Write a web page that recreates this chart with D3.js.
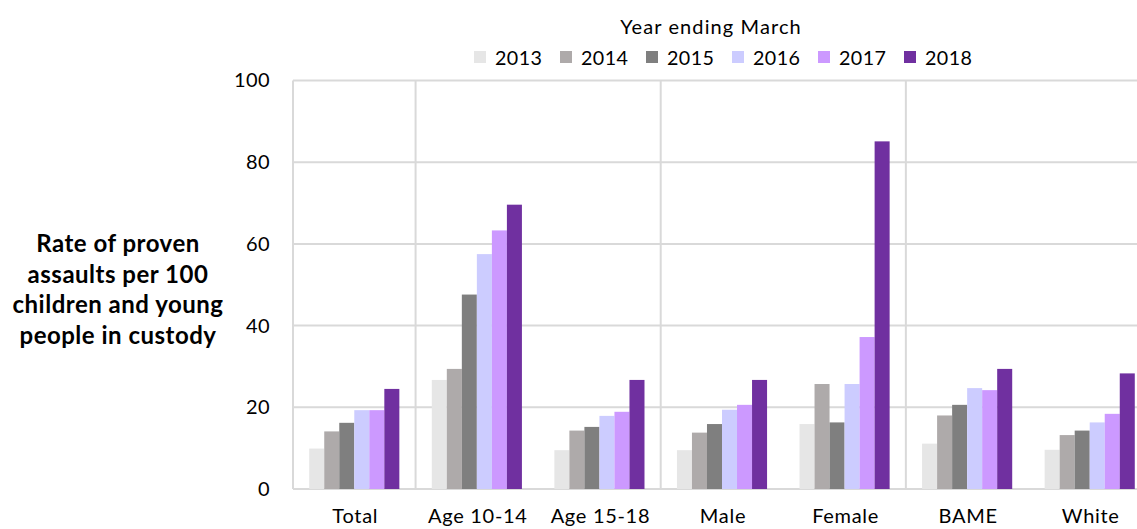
<!DOCTYPE html>
<html>
<head>
<meta charset="utf-8">
<script src="https://cdn.jsdelivr.net/npm/d3@7"></script>
<style>
  html, body { margin: 0; padding: 0; background: #fff; overflow: hidden; }
  svg { display: block; font-family: Lato, "Open Sans", sans-serif; }
</style>
</head>
<body>
<svg id="chart" width="1137" height="529"></svg>
<script>
// Proven assaults per 100 children and young people in custody, by group
const categories = ["Total", "Age 10-14", "Age 15-18", "Male", "Female", "BAME", "White"];
const years = ["2013", "2014", "2015", "2016", "2017", "2018"];
const colors = ["#e6e6e6", "#aeaaaa", "#7f7f7f", "#ccccff", "#cc99ff", "#7030a0"];

const rate2013 = [9.9, 26.7, 9.5, 9.5, 15.9, 11.1, 9.6];
const rate2014 = [14.1, 29.4, 14.3, 13.8, 25.7, 18.0, 13.2];
const rate2015 = [16.2, 47.6, 15.2, 15.9, 16.3, 20.6, 14.3];
const rate2016 = [19.3, 57.5, 17.9, 19.4, 25.7, 24.7, 16.3];
const rate2017 = [19.3, 63.3, 18.9, 20.6, 37.2, 24.2, 18.4];
const rate2018 = [24.5, 69.6, 26.7, 26.7, 85.1, 29.4, 28.3];
const series = [rate2013, rate2014, rate2015, rate2016, rate2017, rate2018];

const yTicks = [0, 20, 40, 60, 80, 100];
// group dividers sit after these categories
const groupEnds = ["Total", "Age 15-18", "Female"];

const svg = d3.select("#chart");
const plotLeft = 293, plotRight = 1151, plotTop = 80.5, plotBottom = 489;

const x0 = d3.scaleBand().domain(categories).range([plotLeft, plotRight]).padding(0);
const x1 = d3.scaleBand().domain(years).range([0, x0.bandwidth()]).paddingOuter(1.08).paddingInner(0);
const y = d3.scaleLinear().domain([0, 100]).range([plotBottom, plotTop]);

const grid = "#d9d9d9";

// horizontal gridlines
svg.append("g").selectAll("line").data(yTicks).join("line")
  .attr("x1", plotLeft).attr("x2", plotRight)
  .attr("y1", d => y(d)).attr("y2", d => y(d))
  .attr("stroke", grid).attr("stroke-width", 2);

// vertical axis line and group dividers
svg.append("line").attr("x1", plotLeft).attr("x2", plotLeft)
  .attr("y1", y(100)).attr("y2", y(0))
  .attr("stroke", grid).attr("stroke-width", 2);
svg.append("g").selectAll("line").data(groupEnds).join("line")
  .attr("x1", d => x0(d) + x0.bandwidth()).attr("x2", d => x0(d) + x0.bandwidth())
  .attr("y1", y(100)).attr("y2", y(0))
  .attr("stroke", grid).attr("stroke-width", 2);

// bars
const groups = svg.append("g").selectAll("g").data(categories).join("g")
  .attr("transform", d => `translate(${x0(d)},0)`);
groups.selectAll("rect")
  .data((c, ci) => years.map((yr, i) => ({ yr, i, v: series[i][ci] })))
  .join("rect")
  .attr("x", d => x1(d.yr))
  .attr("width", x1.bandwidth())
  .attr("y", d => y(d.v))
  .attr("height", d => y(0) - y(d.v))
  .attr("fill", d => colors[d.i]);

// y tick labels
const yAxis = d3.axisLeft(y).tickValues(yTicks).tickSize(0).tickPadding(0);
const yg = svg.append("g").attr("transform", "translate(270,0)").call(yAxis);
yg.select(".domain").remove();
yg.selectAll("text").attr("font-size", 20).attr("letter-spacing", "0.4px")
  .attr("fill", "#000").attr("font-family", "Lato, sans-serif");

// x category labels
const xAxis = d3.axisBottom(x0).tickSize(0).tickPadding(0);
const xg = svg.append("g").attr("transform", "translate(1,509)").call(xAxis);
xg.select(".domain").remove();
xg.selectAll("text").attr("font-size", 20).attr("letter-spacing", "0.7px")
  .attr("fill", "#000").attr("font-family", "Lato, sans-serif").attr("dy", "0.71em");

// y axis title
const titleLines = ["Rate of proven", "assaults per 100", "children and young", "people in custody"];
svg.append("text").attr("text-anchor", "middle").attr("font-weight", "bold")
  .attr("font-size", 24).attr("letter-spacing", "0.5px").attr("fill", "#000")
  .selectAll("tspan").data(titleLines).join("tspan")
  .attr("x", 118).attr("y", (d, i) => 252 + i * 30.7).text(d => d);

// legend
svg.append("text").attr("x", 711).attr("y", 34).attr("text-anchor", "middle")
  .attr("font-size", 20).attr("letter-spacing", "1.1px").attr("fill", "#000")
  .text("Year ending March");
const leg = svg.append("g").selectAll("g").data(years).join("g")
  .attr("transform", (d, i) => `translate(${474 + i * 86},51)`);
leg.append("rect").attr("width", 12).attr("height", 12).attr("fill", (d, i) => colors[i]);
leg.append("text").attr("x", 21).attr("y", 14.3).attr("font-size", 19.7)
  .attr("letter-spacing", "0.4px").attr("fill", "#000").text(d => d);
</script>
</body>
</html>
